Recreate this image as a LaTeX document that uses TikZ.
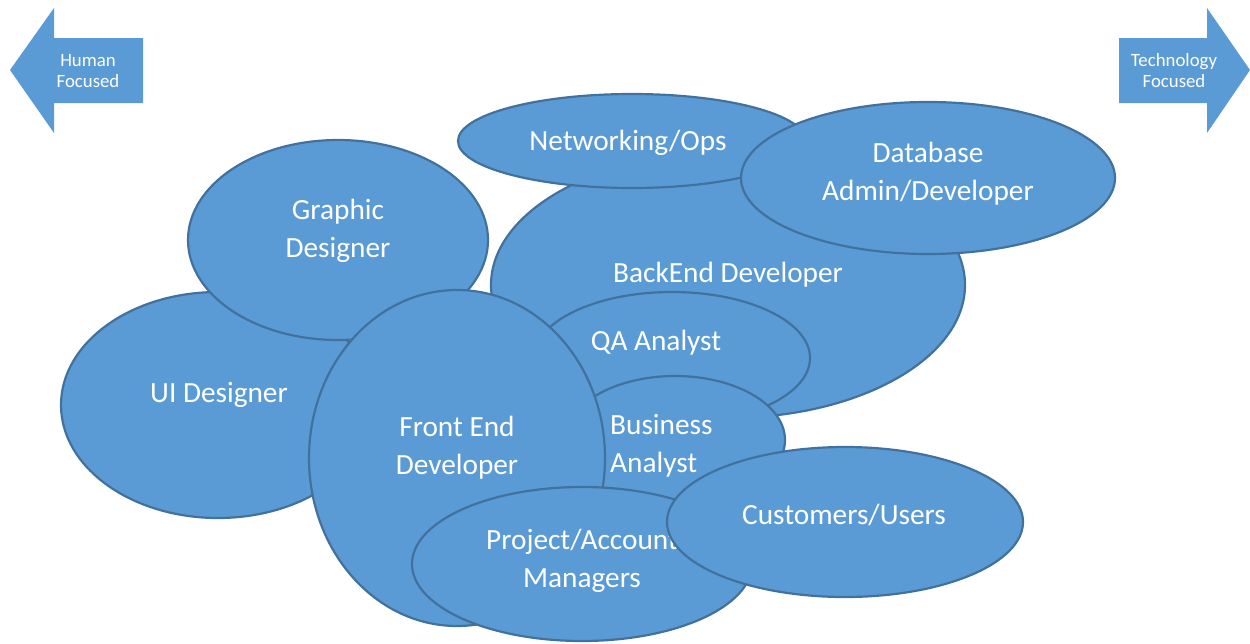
\documentclass[tikz,border=0pt]{standalone}
\usepackage{fontspec}
\setmainfont{Carlito}
\usetikzlibrary{shapes.geometric}
\definecolor{bfill}{HTML}{5B9BD5}
\definecolor{bline}{HTML}{41719C}
\tikzset{
  bub/.style={ellipse, fill=bfill, draw=bline, line width=2.2pt, inner sep=0pt},
  lbl/.style={text=white, font=\fontsize{29.3}{38}\selectfont, align=center, inner sep=0pt},
  albl/.style={text=white, font=\fontsize{18.8}{21}\selectfont, align=center, inner sep=0pt},
  arr/.style={fill=bfill, draw=none}
}
\begin{document}
\begin{tikzpicture}[x=1pt,y=-1pt]
\useasboundingbox (0,0) rectangle (1250,643);
% arrows
\fill[arr] (10,70) -- (54,8) -- (54,38) -- (143,38) -- (143,103) -- (54,103) -- (54,133) -- cycle;
\node[albl] (hf) at (88,71) {Human\\Focused};
\fill[arr] (1250,70) -- (1207,8) -- (1207,38) -- (1119,38) -- (1119,103) -- (1207,103) -- (1207,133) -- cycle;
\node[albl] (tf) at (1174,71) {Technology\\Focused};
% ellipses in stacking order
\node[bub, minimum width=314pt, minimum height=226pt] (ui) at (218,405) {};
\node[lbl] (uit) at (219,395) {UI Designer};
\node[bub, minimum width=300pt, minimum height=200pt] (gd) at (338,240) {};
\node[lbl] (gdt) at (338,231) {Graphic\\Designer};
\node[bub, minimum width=474pt, minimum height=266pt] (be) at (728,285) {};
\node[lbl] (bet) at (728,275) {BackEnd Developer};
\node[bub, minimum width=348pt, minimum height=94pt] (no) at (632,141) {};
\node[lbl] (not) at (628,143) {Networking/Ops};
\node[bub, minimum width=374pt, minimum height=152pt] (db) at (928,178) {};
\node[lbl] (dbt) at (928,174) {Database\\Admin/Developer};
\node[bub, minimum width=276pt, minimum height=132pt] (qa) at (672,358) {};
\node[lbl] (qat) at (656,343) {QA Analyst};
\node[bub, minimum width=220pt, minimum height=128pt] (ba) at (675,440) {};
\node[lbl, align=left, anchor=west] (bat) at (610,446) {Business\\Analyst};
\node[bub, minimum width=296pt, minimum height=336pt] (fe) at (457,458) {};
\node[lbl] (fet) at (457,448) {Front End\\Developer};
\node[bub, minimum width=340pt, minimum height=154pt] (pm) at (582,564) {};
\node[lbl] (pmt) at (582,561) {Project/Account\\Managers};
\node[bub, minimum width=356pt, minimum height=150pt] (cu) at (845,522) {};
\node[lbl] (cut) at (844,515) {Customers/Users};
\end{tikzpicture}
\end{document}
